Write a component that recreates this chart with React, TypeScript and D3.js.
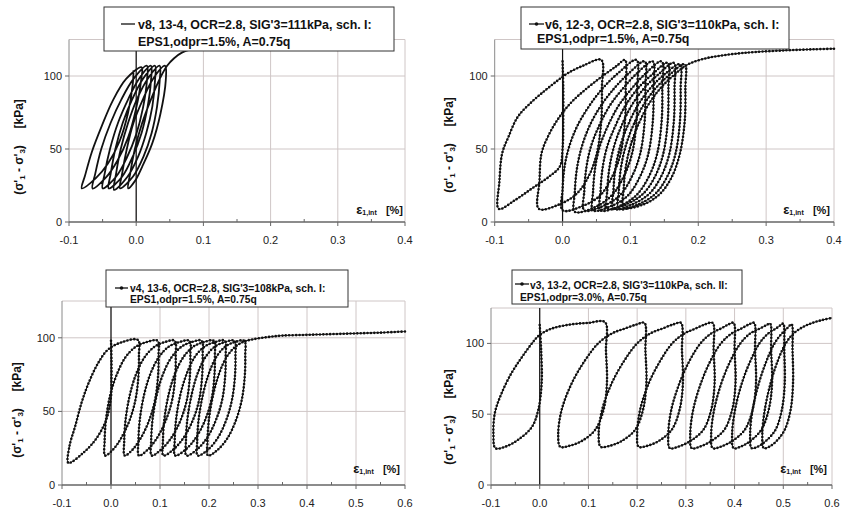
import React from "react";
import * as d3 from "d3";

type Pt = [number, number];

// ---- tick values ----
const xTicksTop = [-0.1, 0, 0.1, 0.2, 0.3, 0.4];
const xTicksBottom = [-0.1, 0, 0.1, 0.2, 0.3, 0.4, 0.5, 0.6];
const yTicks = [0, 50, 100];

// ---- legend texts ----
const legendV8 = ["v8, 13-4, OCR=2.8, SIG'3=111kPa, sch. I:", "EPS1,odpr=1.5%, A=0.75q"];
const legendV6 = ["v6, 12-3, OCR=2.8, SIG'3=110kPa, sch. I:", "EPS1,odpr=1.5%, A=0.75q"];
const legendV4 = ["v4, 13-6, OCR=2.8, SIG'3=108kPa, sch. I:", "EPS1,odpr=1.5%, A=0.75q"];
const legendV3 = ["v3, 13-2, OCR=2.8, SIG'3=110kPa, sch. II:", "EPS1,odpr=3.0%, A=0.75q"];

// ---- v8 (strain %, deviator stress kPa) ----
const v8Curve: Pt[] = [
  [-0.004, 104],
  [-0.005, 95], [-0.012, 75], [-0.025, 55], [-0.042, 40], [-0.06, 30], [-0.081, 23],
  [-0.076, 32], [-0.066, 48], [-0.051, 66], [-0.035, 83], [-0.015, 98], [0.008, 106],
  [0.007, 96], [0.0, 78], [-0.012, 58], [-0.028, 42], [-0.046, 30], [-0.065, 23],
  [-0.061, 33], [-0.052, 50], [-0.038, 68], [-0.022, 84], [-0.004, 98], [0.016, 107],
  [0.016, 97], [0.01, 78], [0.0, 60], [-0.014, 44], [-0.03, 31], [-0.05, 23],
  [-0.047, 33], [-0.039, 50], [-0.027, 68], [-0.012, 84], [0.004, 98], [0.022, 107],
  [0.022, 97], [0.017, 79], [0.008, 61], [-0.005, 45], [-0.021, 31], [-0.041, 23],
  [-0.038, 33], [-0.031, 50], [-0.02, 68], [-0.006, 84], [0.01, 98], [0.028, 107],
  [0.028, 97], [0.024, 79], [0.015, 61], [0.003, 45], [-0.013, 31], [-0.033, 22],
  [-0.03, 33], [-0.023, 50], [-0.012, 68], [0.001, 84], [0.017, 98], [0.035, 107],
  [0.035, 97], [0.031, 79], [0.023, 61], [0.011, 45], [-0.005, 31], [-0.024, 23],
  [-0.021, 33], [-0.014, 50], [-0.004, 68], [0.01, 84], [0.025, 98], [0.043, 107],
  [0.044, 97], [0.036, 74], [0.024, 54], [0.009, 38], [-0.002, 28], [-0.012, 23],
  [-0.009, 33], [-0.002, 50], [0.009, 68], [0.022, 84], [0.035, 98], [0.046, 107],
  [0.056, 112], [0.068, 116], [0.085, 118.5], [0.1, 119.5],
];

// ---- v6 ----
const v6Curve: Pt[] = [
  [0.0, 110],
  [0.001, 92], [0.001, 70], [0.0, 50], [-0.004, 38], [-0.02, 31], [-0.045, 23], [-0.07, 15], [-0.094, 9],
  [-0.093, 28], [-0.089, 47], [-0.08, 58], [-0.066, 72], [-0.046, 82], [-0.026, 90], [-0.007, 97], [0.008, 102], [0.03, 107], [0.057, 111],
  [0.058, 92], [0.057, 69], [0.05, 46], [0.037, 30], [0.02, 19], [-0.005, 12], [-0.035, 9],
  [-0.034, 28], [-0.031, 47], [-0.021, 59], [-0.006, 71], [0.013, 82], [0.037, 92], [0.062, 101], [0.08, 107], [0.092, 111],
  [0.093, 92], [0.092, 69], [0.085, 46], [0.072, 30], [0.055, 18], [0.03, 11], [0.0, 8],
  [0.0, 22], [0.003, 38], [0.01, 52], [0.022, 66], [0.04, 80], [0.06, 92], [0.082, 102], [0.109, 111],
  [0.11, 92], [0.109, 69], [0.102, 46], [0.089, 30], [0.072, 18], [0.047, 10], [0.018, 7],
  [0.018, 20], [0.021, 36], [0.028, 51], [0.04, 66], [0.057, 80], [0.077, 92], [0.098, 102], [0.121, 110],
  [0.122, 92], [0.121, 69], [0.114, 46], [0.101, 30], [0.084, 18], [0.06, 11], [0.032, 8],
  [0.032, 21], [0.035, 37], [0.042, 52], [0.054, 66], [0.07, 80], [0.09, 92], [0.11, 102], [0.133, 110],
  [0.134, 92], [0.133, 69], [0.126, 46], [0.113, 30], [0.096, 18], [0.072, 11], [0.045, 8],
  [0.045, 21], [0.048, 37], [0.055, 52], [0.067, 66], [0.083, 80], [0.103, 92], [0.123, 102], [0.146, 110],
  [0.147, 92], [0.146, 69], [0.139, 46], [0.126, 30], [0.108, 18], [0.084, 11], [0.056, 8],
  [0.056, 21], [0.059, 37], [0.066, 52], [0.078, 66], [0.093, 80], [0.112, 92], [0.132, 101], [0.155, 109],
  [0.156, 92], [0.155, 69], [0.148, 46], [0.135, 30], [0.118, 19], [0.093, 12], [0.066, 9],
  [0.066, 22], [0.069, 37], [0.076, 52], [0.087, 66], [0.102, 80], [0.121, 92], [0.141, 101], [0.164, 109],
  [0.165, 92], [0.164, 69], [0.157, 46], [0.144, 30], [0.127, 19], [0.102, 12], [0.075, 9],
  [0.075, 22], [0.078, 37], [0.085, 52], [0.096, 66], [0.111, 80], [0.13, 92], [0.15, 101], [0.173, 108],
  [0.174, 92], [0.173, 69], [0.166, 46], [0.153, 30], [0.136, 19], [0.111, 12], [0.083, 9],
  [0.083, 22], [0.086, 37], [0.093, 52], [0.104, 66], [0.119, 80], [0.138, 92], [0.158, 101], [0.18, 108],
  [0.181, 92], [0.18, 69], [0.1725, 46], [0.16, 30], [0.143, 19], [0.119, 12], [0.09, 10],
  [0.09, 22], [0.093, 37], [0.1, 52], [0.111, 66], [0.126, 80], [0.145, 92], [0.165, 101], [0.185, 108],
  [0.21, 112], [0.234, 114], [0.26, 115.5], [0.283, 116.4], [0.33, 117.6], [0.37, 118.3], [0.4, 118.7],
];

// ---- v4 ----
const v4Curve: Pt[] = [
  [0.0, 98],
  [0.001, 85], [0.001, 72], [0.0, 60], [-0.009, 45], [-0.029, 32], [-0.056, 22], [-0.087, 15],
  [-0.085, 26], [-0.073, 40], [-0.06, 56], [-0.046, 69], [-0.026, 83], [-0.006, 92], [0.022, 97], [0.055, 98.5],
  [0.057, 88], [0.056, 74], [0.05, 58], [0.038, 44], [0.021, 32], [0.004, 24], [-0.012, 20],
  [-0.013, 30], [-0.01, 45], [-0.001, 62], [0.013, 76], [0.03, 87], [0.051, 94], [0.072, 97], [0.095, 98],
  [0.097, 88], [0.096, 74], [0.09, 58], [0.078, 44], [0.061, 32], [0.044, 24], [0.028, 20],
  [0.027, 30], [0.03, 45], [0.039, 62], [0.052, 76], [0.069, 87], [0.089, 94], [0.109, 97], [0.13, 98],
  [0.132, 88], [0.131, 74], [0.125, 58], [0.112, 44], [0.094, 32], [0.075, 24], [0.057, 20],
  [0.056, 30], [0.059, 45], [0.068, 62], [0.081, 76], [0.098, 87], [0.118, 94], [0.139, 97], [0.16, 98],
  [0.162, 88], [0.161, 74], [0.155, 58], [0.142, 44], [0.123, 32], [0.102, 24], [0.083, 20],
  [0.082, 30], [0.085, 45], [0.094, 62], [0.107, 76], [0.124, 87], [0.144, 94], [0.164, 97], [0.185, 98],
  [0.187, 88], [0.186, 74], [0.18, 58], [0.167, 44], [0.148, 32], [0.127, 24], [0.107, 20],
  [0.106, 30], [0.109, 45], [0.118, 62], [0.131, 76], [0.148, 87], [0.168, 94], [0.189, 97], [0.21, 98],
  [0.212, 88], [0.211, 74], [0.205, 58], [0.192, 44], [0.173, 32], [0.152, 24], [0.131, 20],
  [0.13, 30], [0.133, 45], [0.142, 62], [0.155, 76], [0.171, 87], [0.191, 94], [0.211, 97], [0.232, 98],
  [0.234, 88], [0.233, 74], [0.227, 58], [0.214, 44], [0.196, 32], [0.175, 24], [0.154, 20],
  [0.153, 30], [0.156, 45], [0.165, 62], [0.177, 76], [0.193, 87], [0.212, 94], [0.232, 97], [0.252, 98],
  [0.254, 88], [0.253, 74], [0.247, 58], [0.235, 44], [0.218, 32], [0.198, 24], [0.177, 20],
  [0.176, 30], [0.179, 45], [0.188, 62], [0.2, 76], [0.215, 87], [0.233, 94], [0.252, 97], [0.272, 98],
  [0.274, 88], [0.273, 74], [0.267, 58], [0.255, 44], [0.238, 32], [0.218, 24], [0.198, 20],
  [0.197, 30], [0.2, 45], [0.209, 62], [0.221, 76], [0.236, 87], [0.254, 94], [0.272, 97.5], [0.29, 99],
  [0.32, 100.5], [0.35, 101.5], [0.4, 102], [0.45, 102.5], [0.5, 103], [0.55, 103.5], [0.6, 104.3],
];

// ---- v3 ----
const v3Curve: Pt[] = [
  [0.0, 113],
  [0.003, 95], [0.004, 72], [-0.003, 53], [-0.016, 41], [-0.044, 32], [-0.071, 27], [-0.091, 26],
  [-0.095, 36], [-0.092, 51], [-0.078, 65], [-0.058, 79], [-0.037, 90], [-0.016, 100], [0.0, 106], [0.025, 110.5], [0.066, 113.5], [0.1, 114.5], [0.134, 115],
  [0.136, 95], [0.138, 72], [0.131, 53], [0.114, 39], [0.086, 31], [0.059, 27.5], [0.042, 27],
  [0.038, 36], [0.045, 53], [0.066, 72], [0.093, 88], [0.12, 100], [0.148, 107], [0.175, 110.5], [0.2, 113.5], [0.215, 114.5],
  [0.217, 95], [0.219, 72], [0.212, 53], [0.196, 39], [0.168, 31], [0.142, 27.5], [0.125, 27],
  [0.121, 36], [0.128, 53], [0.148, 72], [0.174, 88], [0.2, 100], [0.227, 107], [0.252, 110.5], [0.275, 113.5], [0.29, 114.5],
  [0.292, 95], [0.294, 72], [0.287, 53], [0.271, 39], [0.244, 31], [0.219, 27.5], [0.203, 27],
  [0.2, 36], [0.206, 53], [0.224, 72], [0.248, 88], [0.272, 100], [0.297, 107], [0.32, 110.5], [0.34, 113.5], [0.355, 114.5],
  [0.357, 95], [0.359, 72], [0.352, 53], [0.336, 39], [0.309, 31], [0.284, 27], [0.267, 26],
  [0.264, 36], [0.27, 53], [0.287, 72], [0.308, 88], [0.33, 100], [0.352, 107], [0.372, 110.5], [0.388, 113.5], [0.398, 114.5],
  [0.4, 95], [0.402, 72], [0.395, 53], [0.379, 39], [0.352, 31], [0.328, 27], [0.312, 26],
  [0.309, 36], [0.315, 53], [0.331, 72], [0.351, 88], [0.372, 100], [0.394, 107], [0.414, 110.5], [0.43, 113.5], [0.44, 114.5],
  [0.442, 95], [0.444, 72], [0.437, 53], [0.421, 39], [0.395, 31], [0.371, 27], [0.355, 26],
  [0.352, 36], [0.358, 53], [0.373, 72], [0.392, 88], [0.412, 100], [0.432, 107], [0.452, 110.5], [0.466, 113], [0.473, 114],
  [0.475, 95], [0.477, 72], [0.47, 53], [0.455, 39], [0.432, 31], [0.412, 27], [0.398, 26],
  [0.395, 36], [0.401, 53], [0.415, 72], [0.433, 88], [0.451, 100], [0.469, 107], [0.485, 110.5], [0.495, 113], [0.5, 114],
  [0.502, 95], [0.503, 72], [0.497, 53], [0.484, 39], [0.464, 31], [0.447, 27], [0.435, 26],
  [0.432, 36], [0.437, 53], [0.45, 72], [0.466, 88], [0.482, 100], [0.497, 107], [0.509, 111], [0.517, 113.5],
  [0.519, 95], [0.52, 72], [0.515, 53], [0.503, 39], [0.486, 31], [0.471, 27], [0.46, 26],
  [0.457, 36], [0.462, 53], [0.474, 72], [0.489, 88], [0.505, 100], [0.521, 107], [0.54, 111.5], [0.56, 114.5], [0.58, 116.5], [0.6, 118],
];

const FONT = "'Liberation Sans', Arial, sans-serif";

interface PanelProps {
  left: number; right: number; top: number; bottom: number;
  xMax: number; xTicks: number[];
  data: Pt[]; markers: boolean;
  legend: string[];
  box: [number, number, number, number];
  sample: [number, number, number];
  text1: [number, number];
  text2: [number, number];
  fs: number;
  yLabel: [number, number];
  xLabel: [number, number];
}

function Panel(p: PanelProps) {
  const x = d3.scaleLinear().domain([-0.1, p.xMax]).range([p.left, p.right]);
  const y = d3.scaleLinear().domain([0, 125]).range([p.bottom, p.top]);
  const line = d3.line<Pt>().x((d) => x(d[0])).y((d) => y(d[1])).curve(d3.curveCatmullRom.alpha(0.5));
  const d = line(p.data) || "";
  const fmt = (v: number) => d3.format(".1f")(v).replace("−", "-");
  const minor = p.xTicks.slice(0, -1).map((t) => t + 0.05);
  const grid = "#cfc6c6";
  return (
    <g>
      {/* gridlines */}
      {p.xTicks.slice(1).map((t) => (
        <line key={"gx" + t} x1={x(t)} x2={x(t)} y1={p.top} y2={p.bottom} stroke={grid} strokeWidth={1} />
      ))}
      {yTicks.slice(1).map((t) => (
        <line key={"gy" + t} x1={p.left} x2={p.right} y1={y(t)} y2={y(t)} stroke={grid} strokeWidth={1} />
      ))}
      <line x1={p.left} x2={p.right} y1={p.top} y2={p.top} stroke={grid} />
      {/* left border */}
      <line x1={p.left} x2={p.left} y1={p.top} y2={p.bottom} stroke="#8a8a8a" strokeWidth={1} />
      {/* x = 0 axis line */}
      <line x1={x(0)} x2={x(0)} y1={p.top} y2={p.bottom} stroke="#111" strokeWidth={1.2} />
      {/* x axis */}
      <line x1={p.left} x2={p.right} y1={p.bottom} y2={p.bottom} stroke="#666" strokeWidth={1.3} />
      {p.xTicks.map((t) => (
        <line key={"tx" + t} x1={x(t)} x2={x(t)} y1={p.bottom} y2={p.bottom + 4} stroke="#666" />
      ))}
      {minor.map((t) => (
        <line key={"mx" + t} x1={x(t)} x2={x(t)} y1={p.bottom} y2={p.bottom - 3} stroke="#666" />
      ))}
      {p.xTicks.map((t) => (
        <text key={"lx" + t} x={x(t)} y={p.bottom + 22} fontSize={11} fontFamily={FONT} fill="#222" textAnchor="middle">
          {fmt(t)}
        </text>
      ))}
      {yTicks.map((t) => (
        <g key={"ly" + t}>
          <line x1={p.left - 4} x2={p.left} y1={y(t)} y2={y(t)} stroke="#666" />
          <text x={p.left - 7} y={y(t) + 4} fontSize={11} fontFamily={FONT} fill="#222" textAnchor="end">
            {t}
          </text>
        </g>
      ))}
      {/* data */}
      <path d={d} fill="none" stroke="#111" strokeWidth={p.markers ? 1 : 1.8} strokeLinejoin="round" />
      {p.markers && (
        <path d={d} fill="none" stroke="#111" strokeWidth={2.6} strokeLinecap="round" strokeDasharray="0 3.4" />
      )}
      {/* legend */}
      <rect x={p.box[0]} y={p.box[1]} width={p.box[2] - p.box[0]} height={p.box[3] - p.box[1]} fill="#fff" stroke="#333" strokeWidth={1} />
      <line x1={p.sample[0]} x2={p.sample[1]} y1={p.sample[2]} y2={p.sample[2]} stroke="#111" strokeWidth={1.3} />
      {p.markers && <circle cx={(p.sample[0] + p.sample[1]) / 2} cy={p.sample[2]} r={1.8} fill="#111" />}
      <text x={p.text1[0]} y={p.text1[1]} fontSize={p.fs} fontWeight="bold" fontFamily={FONT} fill="#111">{p.legend[0]}</text>
      <text x={p.text2[0]} y={p.text2[1]} fontSize={p.fs} fontWeight="bold" fontFamily={FONT} fill="#111">{p.legend[1]}</text>
      {/* y label */}
      <text transform={`translate(${p.yLabel[0]},${p.yLabel[1]}) rotate(-90)`} textAnchor="middle" fontSize={12} fontWeight="bold" fontFamily={FONT} fill="#111" xmlSpace="preserve">
        {"(σ'"}<tspan fontSize={8} dy={2}>1</tspan><tspan dy={-2}>{" - σ'"}</tspan><tspan fontSize={8} dy={2}>3</tspan><tspan dy={-2}>{")     [kPa]"}</tspan>
      </text>
      {/* x label */}
      <text x={p.xLabel[0]} y={p.xLabel[1]} textAnchor="end" fontSize={11} fontWeight="bold" fontFamily={FONT} fill="#111" xmlSpace="preserve">
        <tspan fontSize={13}>{"ε"}</tspan><tspan fontSize={7} dy={1}>1,int</tspan><tspan dy={-1}>{"   [%]"}</tspan>
      </text>
    </g>
  );
}

export default function App() {
  return (
    <svg width={844} height={513} style={{ position: "absolute", left: 0, top: 0, background: "#fff" }}>
      <rect x={0} y={0} width={844} height={513} fill="#fff" />
      <Panel left={69} right={405} top={39.5} bottom={222} xMax={0.4} xTicks={xTicksTop}
        data={v8Curve} markers={false} legend={legendV8}
        box={[104, 7, 394, 51]} sample={[121, 135, 24]} text1={[138, 29]} text2={[138, 46]} fs={12.4}
        yLabel={[23, 147]} xLabel={[403, 214]} />
      <Panel left={494.7} right={834} top={39.5} bottom={222} xMax={0.4} xTicks={xTicksTop}
        data={v6Curve} markers={true} legend={legendV6}
        box={[521, 7, 789, 49]} sample={[529, 544, 24]} text1={[545, 28.5]} text2={[537, 43]} fs={12.4}
        yLabel={[453, 145]} xLabel={[830, 214]} />
      <Panel left={62} right={405} top={301} bottom={485} xMax={0.6} xTicks={xTicksBottom}
        data={v4Curve} markers={true} legend={legendV4}
        box={[106, 270, 348, 307]} sample={[115, 128, 288]} text1={[130, 291.5]} text2={[130, 303]} fs={10.3}
        yLabel={[21, 410]} xLabel={[400, 473]} />
      <Panel left={491} right={832} top={308} bottom={485} xMax={0.6} xTicks={xTicksBottom}
        data={v3Curve} markers={true} legend={legendV3}
        box={[512, 270, 742, 304]} sample={[515, 529, 284]} text1={[530, 288.5]} text2={[520, 300.5]} fs={10.3}
        yLabel={[453, 417]} xLabel={[827, 473]} />
    </svg>
  );
}
